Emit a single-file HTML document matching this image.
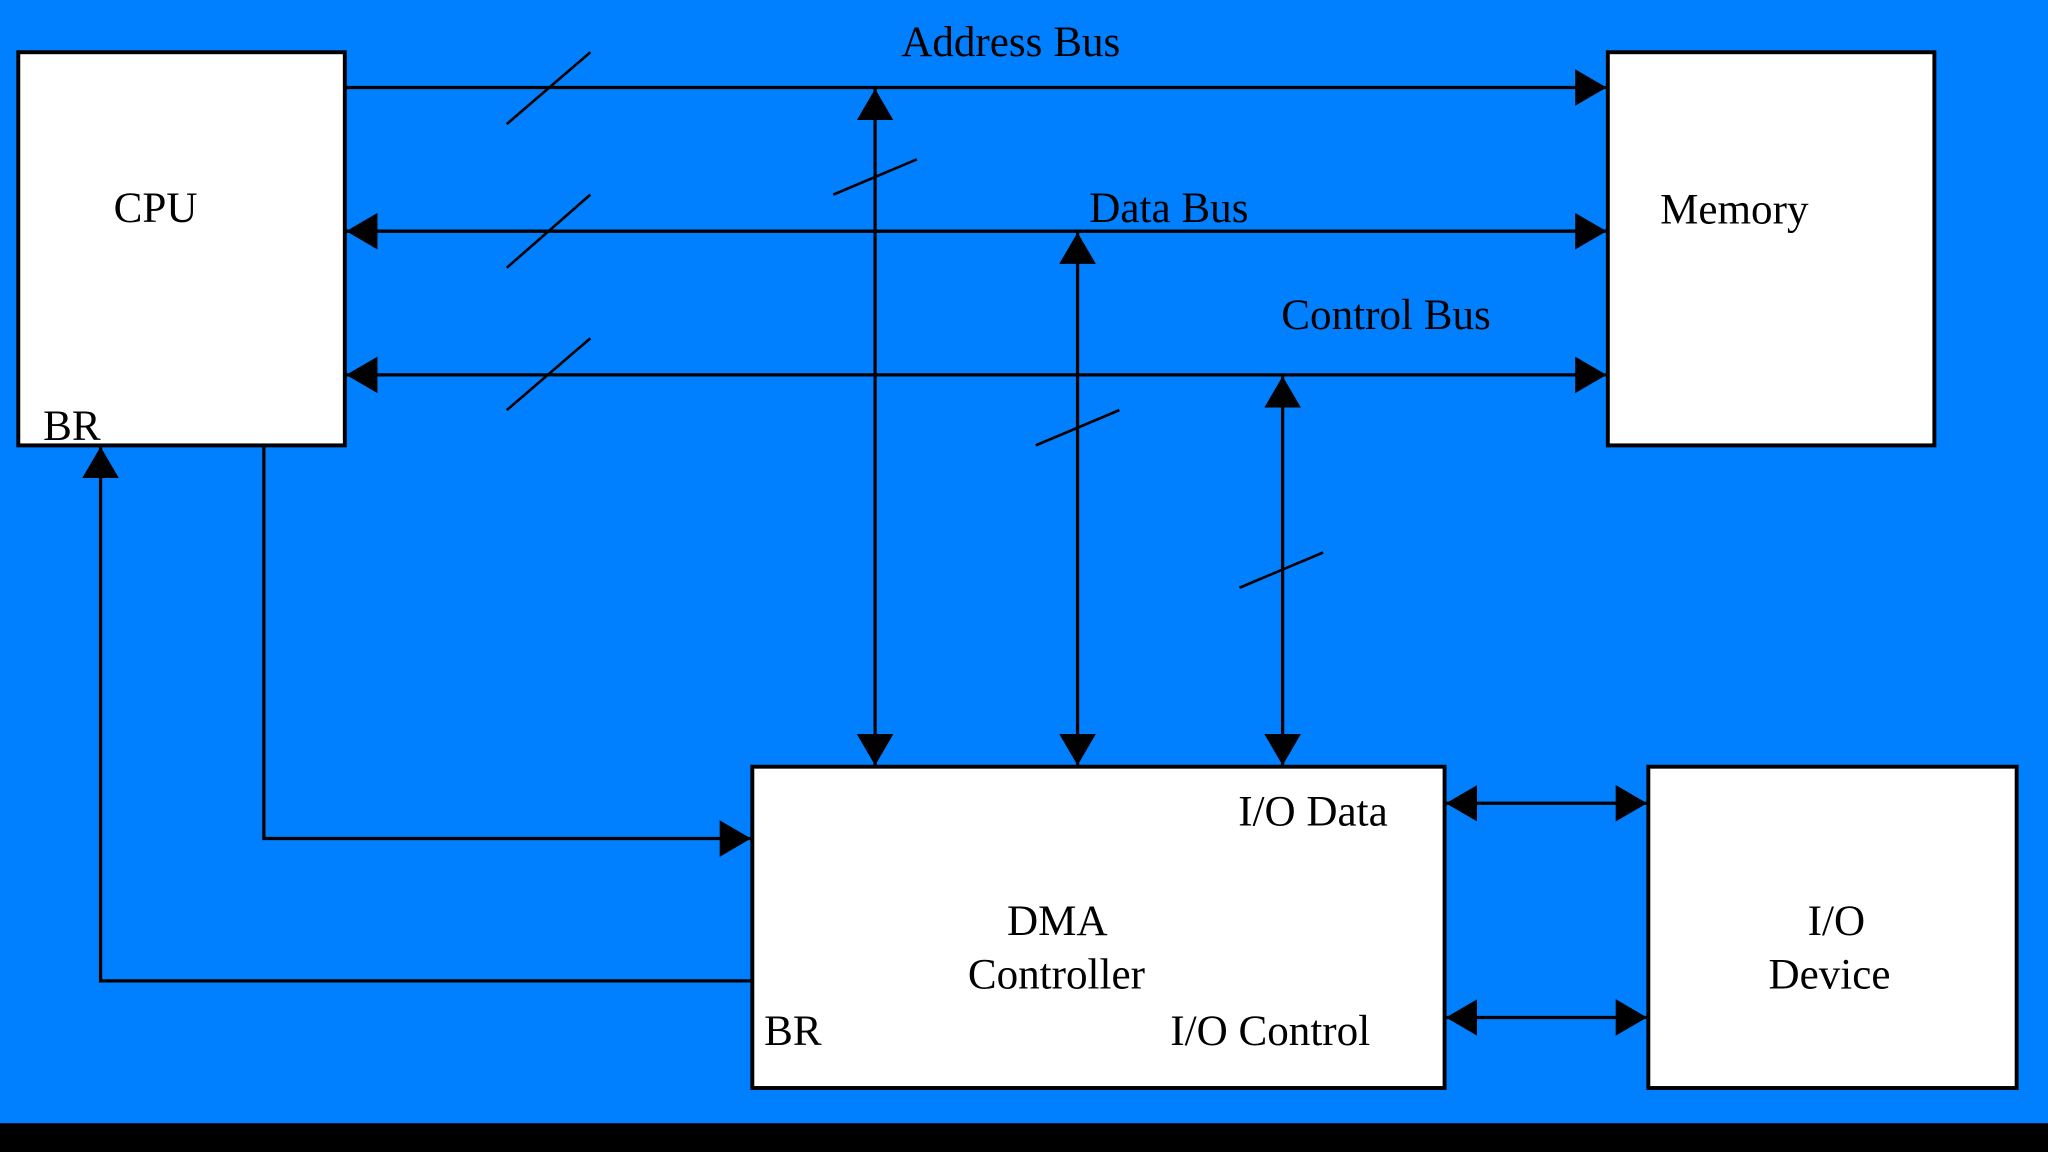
<!DOCTYPE html>
<html><head><meta charset="utf-8"><style>
html,body{margin:0;padding:0;background:#0080ff;}
svg{display:block;}
text{font-family:"Liberation Serif",serif;font-size:33px;fill:#000;}
</style></head><body>
<svg width="2048" height="1152" viewBox="0 0 1568 882" xmlns="http://www.w3.org/2000/svg">
<rect x="0" y="0" width="1568" height="882" fill="#0080ff"/>
<rect x="0" y="860" width="1568" height="22" fill="#000"/>
<defs>
<marker id="a" viewBox="0 0 24 28" refX="24" refY="14" markerWidth="24" markerHeight="28" markerUnits="userSpaceOnUse" orient="auto-start-reverse">
<path d="M0,0 L24,14 L0,28 Z" fill="#000"/>
</marker>
</defs>
<g fill="#fff" stroke="#000" stroke-width="3">
<rect x="14" y="40" width="250" height="301"/>
<rect x="1231" y="40" width="250" height="301"/>
<rect x="576" y="587" width="530" height="246"/>
<rect x="1262" y="587" width="282" height="246"/>
</g>
<g stroke="#000" stroke-width="2.5" fill="none">
<line x1="264" y1="67" x2="1230" y2="67" marker-end="url(#a)"/>
<line x1="265" y1="177" x2="1230" y2="177" marker-start="url(#a)" marker-end="url(#a)"/>
<line x1="265" y1="287" x2="1230" y2="287" marker-start="url(#a)" marker-end="url(#a)"/>
<line x1="670" y1="68" x2="670" y2="586" marker-start="url(#a)" marker-end="url(#a)"/>
<line x1="825" y1="178" x2="825" y2="586" marker-start="url(#a)" marker-end="url(#a)"/>
<line x1="982" y1="288" x2="982" y2="586" marker-start="url(#a)" marker-end="url(#a)"/>
<polyline points="202,341 202,642 575,642" marker-end="url(#a)"/>
<polyline points="576,751 77,751 77,342" marker-end="url(#a)"/>
<line x1="1107" y1="615" x2="1261" y2="615" marker-start="url(#a)" marker-end="url(#a)"/>
<line x1="1107" y1="779" x2="1261" y2="779" marker-start="url(#a)" marker-end="url(#a)"/>
</g>
<g stroke="#000" stroke-width="2">
<line x1="388" y1="95" x2="452" y2="40"/>
<line x1="388" y1="205" x2="452" y2="149"/>
<line x1="388" y1="314" x2="452" y2="259"/>
<line x1="638" y1="149" x2="702" y2="122"/>
<line x1="793" y1="341" x2="857" y2="314"/>
<line x1="949" y1="450" x2="1013" y2="423"/>
</g>
<text x="690" y="43">Address Bus</text>
<text x="87" y="170">CPU</text>
<text x="834" y="170">Data Bus</text>
<text x="1271" y="171">Memory</text>
<text x="981" y="252">Control Bus</text>
<text x="33" y="337">BR</text>
<text x="948" y="632">I/O Data</text>
<text x="771" y="716">DMA</text>
<text x="741" y="757">Controller</text>
<text x="585" y="800">BR</text>
<text x="896" y="800">I/O Control</text>
<text x="1384" y="716">I/O</text>
<text x="1354" y="757">Device</text>
</svg>
</body></html>
